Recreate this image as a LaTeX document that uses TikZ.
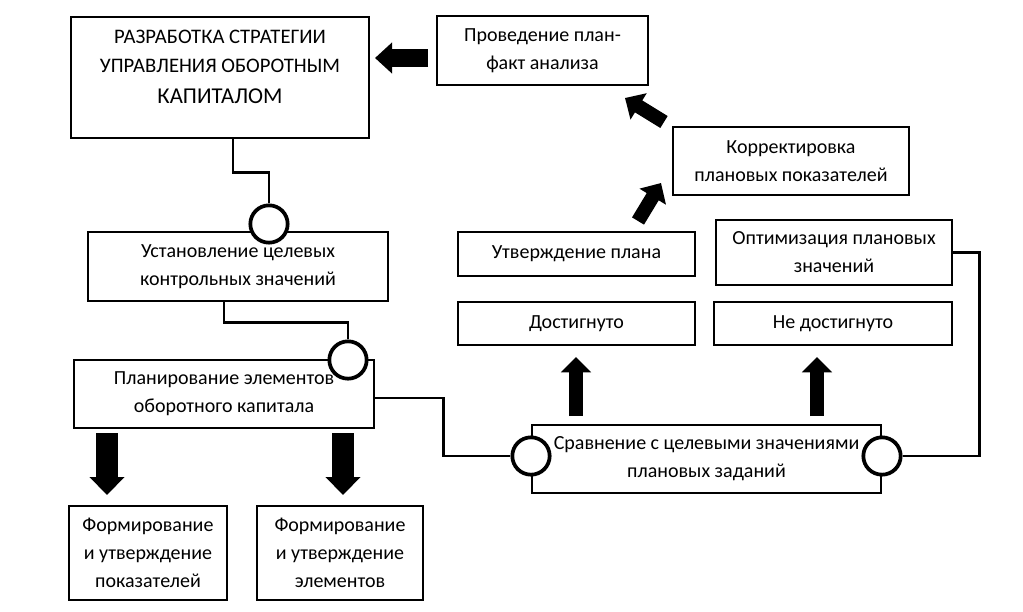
\documentclass[tikz,border=0pt]{standalone}
\usepackage{fontspec}
\setmainfont{Carlito}
\usetikzlibrary{arrows.meta}
\begin{document}
\begin{tikzpicture}[x=0.75pt,y=-0.75pt,
  box/.style={draw,line width=1.1pt,align=center,inner sep=0pt,
    font=\fontsize{15}{21}\selectfont},
  sz/.style 2 args={minimum width=#1*0.75pt,minimum height=#2*0.75pt},
  circ/.style={draw,circle,fill=white,line width=2.8pt,minimum size=28pt,inner sep=0pt},
  conn/.style={line width=2.2pt,line join=miter},
  uparr/.style={line width=11pt,-{Triangle[width=22pt,length=11.5pt]}},
  downarr/.style={line width=16.5pt,-{Triangle[width=25.5pt,length=13.5pt]}},
  leftarr/.style={line width=13.5pt,-{Triangle[width=22.5pt,length=12.75pt]}},
  diagarr/.style={line width=10.5pt,-{Triangle[width=22.5pt,length=12pt]}}]
\useasboundingbox (0,0) rectangle (1023,611);
% boxes
\node[box,sz={298}{121}] (strat) at (220,77.5) {};
\node[align=center,inner sep=0pt,font=\fontsize{15.5}{21.5}\selectfont] (stratT) at (220,67)
  {РАЗРАБОТКА СТРАТЕГИИ\\УПРАВЛЕНИЯ ОБОРОТНЫМ\\[1.5pt]{\fontsize{17}{21.5}\selectfont КАПИТАЛОМ}};
\node[box,sz={211}{69}] (prov) at (542.5,50.5) {Проведение план-\\факт анализа};
\node[box,sz={236}{68}] (korr) at (791,161) {Корректировка\\плановых показателей};
\node[box,sz={300}{69}] (ust) at (238,266.5) {Установление целевых\\контрольных значений};
\node[box,sz={300}{68}] (plan) at (224,394) {Планирование элементов\\оборотного капитала};
\node[box,sz={237}{44}] (utv) at (576.5,254) {Утверждение плана};
\node[box,sz={236}{65}] (opt) at (834,252.5) {Оптимизация плановых\\значений};
\node[box,sz={237}{43}] (dost) at (576.5,323.5) {Достигнуто};
\node[box,sz={238}{43}] (nedost) at (833,323.5) {Не достигнуто};
\node[box,sz={349}{68}] (sr) at (706.5,459) {Сравнение с целевыми значениями\\плановых заданий};
\node[box,sz={158}{94}] (f1) at (148,553) {Формирование\\и утверждение\\показателей};
\node[box,sz={166}{94}] (f2) at (340,553) {Формирование\\и утверждение\\элементов};
% circles
\node[circ] (c1) at (269,224) {};
\node[circ] (c2) at (348,360) {};
\node[circ] (c3) at (531,456) {};
\node[circ] (c4) at (882,456) {};
% connectors
\draw[conn] ([xshift=9.75pt]strat.south) -- ++(0,34) -| (c1.north);
\draw[conn] ([xshift=-10.5pt]ust.south) -- ++(0,21) -| (c2.north);
\draw[conn] ([yshift=-3pt]plan.east) -- ++(69,0) |- (c3.west);
\draw[conn] (opt.east) -- ++(27,0) |- (c4.east);
% block arrows
\coordinate (aLt) at (428,58);  \coordinate (aLh) at (375,58);
\coordinate (aAt) at (664,122); \coordinate (aAh) at (625,98);
\coordinate (aBt) at (638,221); \coordinate (aBh) at (661,183);
\coordinate (u1t) at (576,416); \coordinate (u1h) at (576,357);
\coordinate (u2t) at (817,416); \coordinate (u2h) at (817,357);
\coordinate (d1t) at (107,433); \coordinate (d1h) at (107,495);
\coordinate (d2t) at (343,433); \coordinate (d2h) at (343,495);
\draw[leftarr] (aLt) -- (aLh);
\draw[diagarr] (aAt) -- (aAh);
\draw[diagarr] (aBt) -- (aBh);
\draw[uparr] (u1t) -- (u1h);
\draw[uparr] (u2t) -- (u2h);
\draw[downarr] (d1t) -- (d1h);
\draw[downarr] (d2t) -- (d2h);
\end{tikzpicture}
\end{document}
